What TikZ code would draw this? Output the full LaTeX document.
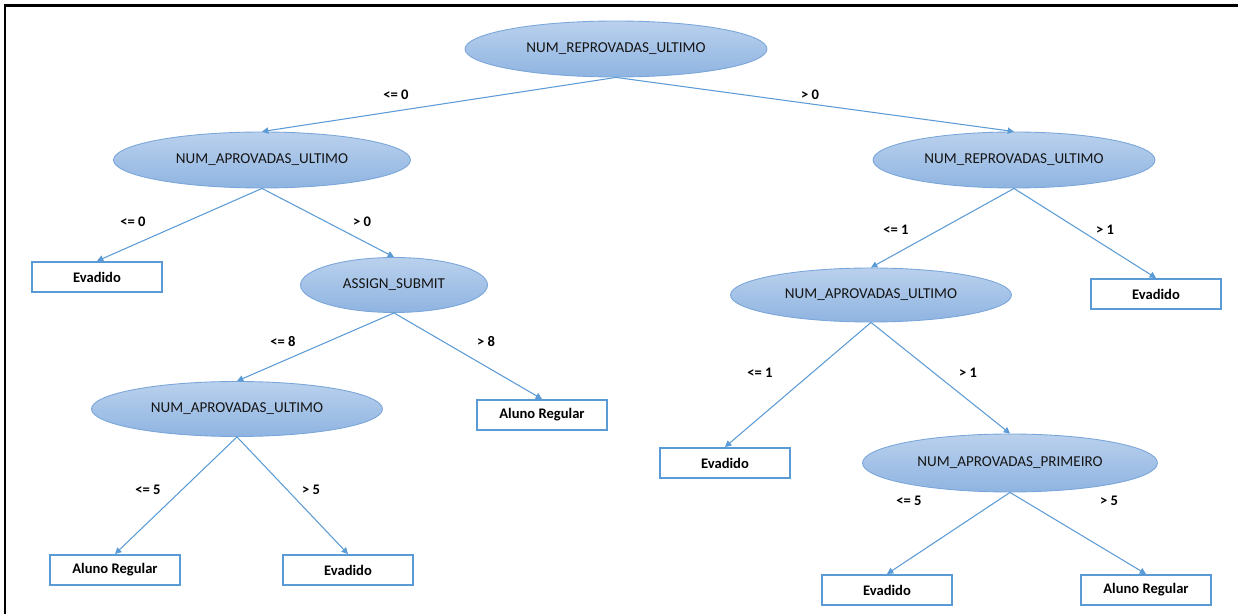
\documentclass[tikz,border=0pt]{standalone}
\usepackage{fontspec}
\setmainfont{Carlito}
\usetikzlibrary{shapes.geometric,arrows.meta}
\definecolor{nodetop}{HTML}{BAD1ED}
\definecolor{nodebot}{HTML}{8FB4E1}
\definecolor{nodeline}{HTML}{7AA6DA}
\definecolor{linkblue}{HTML}{5B9BD5}
\definecolor{inktext}{HTML}{151515}
\begin{document}
\begin{tikzpicture}[x=0.02cm,y=-0.02cm,
  decision/.style={ellipse, inner sep=0pt, minimum height=1.12cm,
    top color=nodetop, bottom color=nodebot, draw=nodeline, line width=0.5pt,
    font=\fontsize{8.6}{10}\selectfont, text=inktext},
  leaf/.style={rectangle, inner sep=0pt, minimum width=2.6cm, minimum height=0.6cm,
    draw=linkblue, line width=1.1pt, fill=white,
    font=\fontsize{8.3}{10}\selectfont\bfseries},
  edge/.style={draw=linkblue, line width=0.6pt,
    -{Triangle[length=3.6pt,width=3.6pt]}},
  cond/.style={font=\fontsize{8.3}{10}\selectfont\bfseries, inner sep=0pt}]
\useasboundingbox (0,0) rectangle (1238,614);
% open frame: left and top sides
\draw[line width=1.7pt] (5,614) -- (5,6) -- (1238,6);

% decision nodes
\node[decision, minimum width=6.04cm] (root) at (616,49) {NUM\_REPROVADAS\_ULTIMO};
\node[decision, minimum width=5.94cm] (apl) at (262,160) {NUM\_APROVADAS\_ULTIMO};
\node[decision, minimum width=5.64cm] (repr) at (1014,160) {NUM\_REPROVADAS\_ULTIMO};
\node[decision, minimum width=3.74cm, minimum height=1.1cm] (assign) at (394,285) {ASSIGN\_SUBMIT};
\node[decision, minimum width=5.82cm, minimum height=1.1cm] (apll) at (237,409) {NUM\_APROVADAS\_ULTIMO};
\node[decision, minimum width=5.62cm, minimum height=1.08cm] (aprr) at (871,295) {NUM\_APROVADAS\_ULTIMO};
\node[decision, minimum width=5.9cm, minimum height=1.16cm] (prim) at (1010,463) {NUM\_APROVADAS\_PRIMEIRO};

% leaves
\node[leaf] (l1) at (97,277) {Evadido};
\node[leaf] (l2) at (542,415) {Aluno Regular};
\node[leaf] (l3) at (115,570) {Aluno Regular};
\node[leaf] (l4) at (348,570) {Evadido};
\node[leaf] (l5) at (1156,294) {Evadido};
\node[leaf] (l6) at (725,463) {Evadido};
\node[leaf] (l7) at (887,590) {Evadido};
\node[leaf] (l8) at (1146,590) {Aluno Regular};

% branches
\draw[edge] (root.south) -- (apl.north);
\draw[edge] (root.south) -- (repr.north);
\draw[edge] (apl.south) -- (l1.north);
\draw[edge] (apl.south) -- (assign.north);
\draw[edge] (assign.south) -- (apll.north);
\draw[edge] (assign.south) -- (l2.north);
\draw[edge] (apll.south) -- (l3.north);
\draw[edge] (apll.south) -- (l4.north);
\draw[edge] (repr.south) -- (aprr.north);
\draw[edge] (repr.south) -- (l5.north);
\draw[edge] (aprr.south) -- (l6.north);
\draw[edge] (aprr.south) -- (prim.north);
\draw[edge] (prim.south) -- (l7.north);
\draw[edge] (prim.south) -- (l8.north);

% branch conditions
\node[cond] (c1) at (396,95) {<= 0};
\node[cond] (c2) at (810,95) {> 0};
\node[cond] (c3) at (133,222) {<= 0};
\node[cond] (c4) at (362,222) {> 0};
\node[cond] (c5) at (283,342) {<= 8};
\node[cond] (c6) at (486,342) {> 8};
\node[cond] (c7) at (148,490) {<= 5};
\node[cond] (c8) at (311,490) {> 5};
\node[cond] (c9) at (896,230) {<= 1};
\node[cond] (c10) at (1105,230) {> 1};
\node[cond] (c11) at (760,373) {<= 1};
\node[cond] (c12) at (968,373) {> 1};
\node[cond] (c13) at (909,501) {<= 5};
\node[cond] (c14) at (1109,501) {> 5};
\end{tikzpicture}
\end{document}
